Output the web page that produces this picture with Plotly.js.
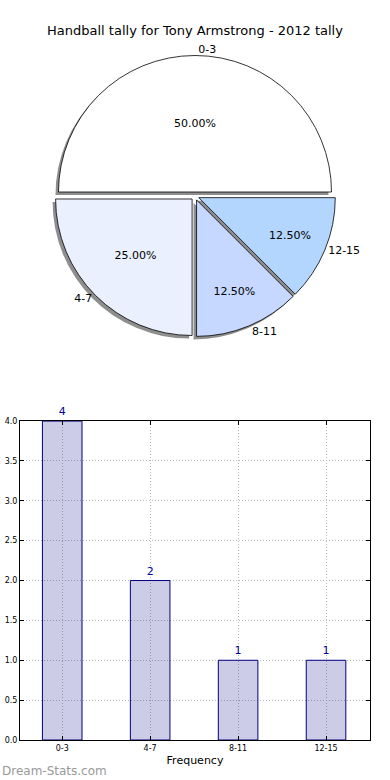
<!DOCTYPE html>
<html>
<head>
<meta charset="utf-8">
<script src="https://cdn.plot.ly/plotly-3.0.1.min.js"></script>
<style>html,body{margin:0;padding:0;background:#fff;}#chart{width:390px;height:780px;}</style>
</head>
<body>
<div id="chart"></div>
<script>
// ---- data ----
var categories = ['0-3', '4-7', '8-11', '12-15'];
var counts = [4, 2, 1, 1];
var yTickVals = [0, 0.5, 1, 1.5, 2, 2.5, 3, 3.5, 4];
var yTickText = ['0.0', '0.5', '1.0', '1.5', '2.0', '2.5', '3.0', '3.5', '4.0'];
var chartTitle = 'Handball tally for Tony Armstrong - 2012 tally';
var xTitle = 'Frequency';
var watermark = 'Dream-Stats.com';

// ---- styles ----
var FONT = 'DejaVu Sans, sans-serif';
var pieColors = ['#ffffff', '#ebf0ff', '#c6d8ff', '#b3d6ff'];
var pullAmt = 0.03;
var pieDomainX = [0.05, 0.95];
var pieDomainY = [0.545, 0.925];
var shX = -3 / 350, shY = -3 / 740;
var ROT = -90;

var shadow = {
  type: 'pie', values: counts, labels: categories, sort: false,
  direction: 'counterclockwise', rotation: ROT,
  pull: counts.map(function () { return pullAmt; }),
  marker: { colors: counts.map(function () { return 'rgba(50,50,50,0.55)'; }), line: { width: 0 } },
  textinfo: 'none', hoverinfo: 'skip', showlegend: false,
  domain: { x: [pieDomainX[0] + shX, pieDomainX[1] + shX], y: [pieDomainY[0] + shY, pieDomainY[1] + shY] }
};
var pie = {
  type: 'pie', values: counts, labels: categories, sort: false,
  direction: 'counterclockwise', rotation: ROT,
  pull: counts.map(function () { return pullAmt; }),
  marker: { colors: pieColors, line: { color: '#000000', width: 0.8 } },
  texttemplate: '%{percent:.2%}', textposition: 'inside', insidetextorientation: 'horizontal',
  textfont: { family: FONT, size: 11, color: '#000000' },
  hoverinfo: 'skip', showlegend: false,
  domain: { x: pieDomainX, y: pieDomainY }
};
var pieLabels = {
  type: 'pie', values: counts, labels: categories, sort: false,
  direction: 'counterclockwise', rotation: ROT,
  pull: counts.map(function () { return pullAmt; }),
  marker: { colors: counts.map(function () { return 'rgba(0,0,0,0)'; }), line: { width: 0 } },
  texttemplate: '%{label}', textposition: 'outside',
  outsidetextfont: { family: FONT, size: 11, color: '#000000' },
  hoverinfo: 'skip', showlegend: false,
  domain: { x: pieDomainX, y: pieDomainY }
};
var bars = {
  type: 'bar', x: categories, y: counts, width: 0.45,
  marker: { color: 'rgba(0,0,128,0.2)', line: { color: '#000080', width: 1 } },
  text: counts.map(String), textposition: 'outside', cliponaxis: false,
  textfont: { family: FONT, size: 11, color: '#0000a0' },
  hoverinfo: 'skip', showlegend: false,
  xaxis: 'x', yaxis: 'y'
};

var layout = {
  width: 390, height: 780,
  margin: { l: 20, r: 20, t: 0, b: 40 },
  paper_bgcolor: '#ffffff', plot_bgcolor: '#ffffff',
  font: { family: FONT, color: '#000000' },
  title: { text: chartTitle, font: { family: FONT, size: 13, color: '#000000' },
           x: 0.5, xanchor: 'center', xref: 'paper', y: 1 - 30 / 780, yref: 'container', yanchor: 'middle' },
  xaxis: {
    type: 'category', domain: [0, 1], range: [-0.48, 3.5], anchor: 'y',
    showline: true, linecolor: '#000000', linewidth: 1, mirror: 'ticks',
    ticks: 'inside', ticklen: 4, tickcolor: '#000000',
    showgrid: true, gridcolor: '#b8b8b8', griddash: '1px,2px', gridwidth: 1,
    tickfont: { family: FONT, size: 8, color: '#000000' },
    title: { text: xTitle, font: { family: FONT, size: 11, color: '#000000' }, standoff: 4 },
    fixedrange: true
  },
  yaxis: {
    domain: [0, 0.431], range: [0, 4], anchor: 'x',
    tickvals: yTickVals, ticktext: yTickText,
    showline: true, linecolor: '#000000', linewidth: 1, mirror: 'ticks',
    ticks: 'inside', ticklen: 4, tickcolor: '#000000',
    showgrid: true, gridcolor: '#b8b8b8', griddash: '1px,2px', gridwidth: 1,
    zeroline: false,
    tickfont: { family: FONT, size: 8, color: '#000000' },
    fixedrange: true
  },
  annotations: [{
    text: watermark, xref: 'paper', yref: 'paper', x: 0, y: 0, xanchor: 'left', yanchor: 'top',
    xshift: -20, yshift: -22, showarrow: false,
    font: { family: FONT, size: 12, color: '#999999' }
  }]
};

Plotly.newPlot('chart', [shadow, pie, pieLabels, bars], layout, { displayModeBar: false, staticPlot: true });
</script>
</body>
</html>
